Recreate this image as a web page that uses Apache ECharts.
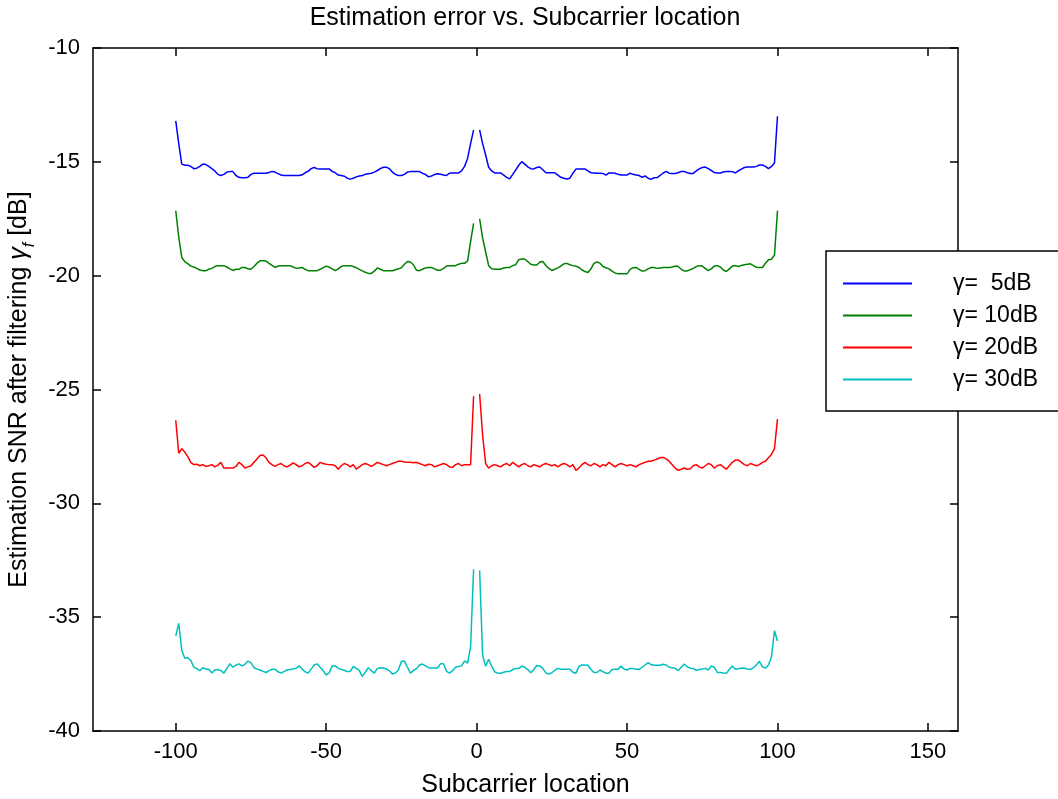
<!DOCTYPE html>
<html>
<head>
<meta charset="utf-8">
<script src="https://cdn.jsdelivr.net/npm/echarts@6/dist/echarts.min.js"></script>
<style>
html,body{margin:0;padding:0;background:#fff;}
#chart{width:1058px;height:799px;}
</style>
</head>
<body>
<div id="chart"></div>
<script>
// Subcarrier indices: -100..-1 and 1..100 (subcarrier 0 is unused)
const subcarriersLeft = [];
const subcarriersRight = [];
for (let k = -100; k <= -1; k++) subcarriersLeft.push(k);
for (let k = 1; k <= 100; k++) subcarriersRight.push(k);

const xTickValues = [-100, -50, 0, 50, 100, 150];
const seriesNames = ['\u03b3=  5dB', '\u03b3= 10dB', '\u03b3= 20dB', '\u03b3= 30dB'];
const seriesColors = ['#0000ff', '#008000', '#ff0000', '#00bfbf'];

// gamma = 5 dB
const snr5Left = [
-13.2,-14.2,-15.1,-15.15,-15.15,-15.2,-15.3,-15.28,-15.2,-15.1,
-15.12,-15.2,-15.3,-15.4,-15.55,-15.6,-15.55,-15.45,-15.43,-15.43,
-15.6,-15.68,-15.7,-15.7,-15.68,-15.55,-15.5,-15.5,-15.5,-15.5,
-15.5,-15.47,-15.42,-15.45,-15.52,-15.58,-15.6,-15.6,-15.6,-15.6,
-15.6,-15.6,-15.57,-15.48,-15.42,-15.3,-15.25,-15.3,-15.31,-15.31,
-15.31,-15.31,-15.42,-15.48,-15.58,-15.6,-15.63,-15.72,-15.76,-15.72,
-15.66,-15.62,-15.6,-15.55,-15.52,-15.5,-15.45,-15.38,-15.3,-15.24,
-15.24,-15.3,-15.45,-15.55,-15.6,-15.6,-15.55,-15.45,-15.43,-15.43,
-15.43,-15.43,-15.5,-15.55,-15.66,-15.62,-15.56,-15.52,-15.55,-15.58,
-15.6,-15.5,-15.49,-15.49,-15.49,-15.4,-15.2,-14.85,-14.2,-13.6
];
const snr5Right = [
-13.6,-14.2,-14.7,-15.24,-15.4,-15.49,-15.49,-15.49,-15.58,-15.68,
-15.75,-15.55,-15.36,-15.15,-14.99,-15.1,-15.22,-15.3,-15.31,-15.25,
-15.23,-15.35,-15.48,-15.48,-15.48,-15.48,-15.58,-15.68,-15.72,-15.75,
-15.72,-15.5,-15.32,-15.31,-15.31,-15.31,-15.4,-15.48,-15.49,-15.5,
-15.5,-15.51,-15.58,-15.49,-15.49,-15.5,-15.55,-15.58,-15.58,-15.58,
-15.5,-15.55,-15.58,-15.6,-15.68,-15.62,-15.72,-15.77,-15.7,-15.69,
-15.6,-15.49,-15.42,-15.5,-15.51,-15.51,-15.48,-15.42,-15.42,-15.48,
-15.51,-15.51,-15.4,-15.31,-15.25,-15.23,-15.3,-15.38,-15.47,-15.49,
-15.49,-15.45,-15.42,-15.42,-15.43,-15.49,-15.4,-15.32,-15.25,-15.23,
-15.23,-15.23,-15.2,-15.14,-15.14,-15.2,-15.3,-15.2,-15.05,-13.0
];

// gamma = 10 dB
const snr10Left = [
-17.15,-18.3,-19.2,-19.38,-19.47,-19.58,-19.62,-19.68,-19.75,-19.78,
-19.78,-19.72,-19.68,-19.6,-19.56,-19.56,-19.56,-19.62,-19.7,-19.77,
-19.72,-19.72,-19.64,-19.64,-19.7,-19.72,-19.6,-19.45,-19.35,-19.35,
-19.36,-19.46,-19.55,-19.64,-19.58,-19.56,-19.56,-19.56,-19.56,-19.62,
-19.67,-19.66,-19.64,-19.72,-19.78,-19.78,-19.78,-19.78,-19.72,-19.65,
-19.58,-19.63,-19.7,-19.78,-19.7,-19.6,-19.56,-19.56,-19.56,-19.6,
-19.65,-19.72,-19.79,-19.85,-19.9,-19.9,-19.8,-19.66,-19.72,-19.78,
-19.78,-19.78,-19.78,-19.74,-19.7,-19.65,-19.5,-19.38,-19.4,-19.52,
-19.76,-19.78,-19.72,-19.66,-19.64,-19.64,-19.7,-19.76,-19.76,-19.68,
-19.58,-19.56,-19.56,-19.56,-19.5,-19.46,-19.46,-19.35,-18.5,-17.7
];
const snr10Right = [
-17.5,-18.35,-18.95,-19.56,-19.7,-19.72,-19.72,-19.72,-19.66,-19.64,
-19.64,-19.56,-19.52,-19.3,-19.27,-19.27,-19.38,-19.5,-19.53,-19.53,
-19.4,-19.38,-19.55,-19.68,-19.77,-19.72,-19.66,-19.58,-19.48,-19.46,
-19.52,-19.56,-19.58,-19.64,-19.74,-19.82,-19.86,-19.7,-19.46,-19.4,
-19.45,-19.6,-19.65,-19.7,-19.8,-19.88,-19.92,-19.92,-19.92,-19.92,
-19.72,-19.65,-19.64,-19.72,-19.8,-19.78,-19.7,-19.64,-19.64,-19.68,
-19.66,-19.64,-19.64,-19.64,-19.62,-19.58,-19.6,-19.72,-19.79,-19.79,
-19.74,-19.68,-19.6,-19.56,-19.58,-19.68,-19.78,-19.7,-19.58,-19.56,
-19.62,-19.75,-19.82,-19.7,-19.58,-19.56,-19.6,-19.55,-19.52,-19.5,
-19.48,-19.56,-19.63,-19.64,-19.64,-19.45,-19.3,-19.28,-19.1,-17.15
];

// gamma = 20 dB
const snr20Left = [
-26.35,-27.8,-27.6,-27.75,-27.95,-28.2,-28.3,-28.28,-28.35,-28.3,
-28.38,-28.35,-28.3,-28.4,-28.32,-28.2,-28.45,-28.45,-28.45,-28.45,
-28.38,-28.2,-28.3,-28.45,-28.4,-28.35,-28.2,-28.05,-27.9,-27.88,
-28.0,-28.2,-28.3,-28.38,-28.3,-28.25,-28.35,-28.4,-28.32,-28.22,
-28.3,-28.4,-28.35,-28.25,-28.2,-28.3,-28.42,-28.35,-28.2,-28.25,
-28.28,-28.3,-28.3,-28.35,-28.5,-28.35,-28.25,-28.3,-28.4,-28.3,
-28.5,-28.4,-28.3,-28.25,-28.3,-28.38,-28.3,-28.2,-28.25,-28.3,
-28.35,-28.3,-28.25,-28.2,-28.15,-28.15,-28.18,-28.2,-28.2,-28.22,
-28.2,-28.25,-28.3,-28.35,-28.28,-28.3,-28.4,-28.35,-28.3,-28.25,
-28.3,-28.4,-28.42,-28.3,-28.25,-28.35,-28.3,-28.3,-28.3,-25.3
];
const snr20Right = [
-25.2,-27.0,-28.25,-28.45,-28.35,-28.3,-28.35,-28.4,-28.3,-28.25,
-28.35,-28.2,-28.3,-28.4,-28.3,-28.25,-28.35,-28.4,-28.3,-28.35,
-28.4,-28.3,-28.25,-28.3,-28.35,-28.3,-28.4,-28.3,-28.25,-28.3,
-28.4,-28.3,-28.55,-28.45,-28.3,-28.2,-28.3,-28.35,-28.25,-28.3,
-28.4,-28.3,-28.35,-28.2,-28.3,-28.4,-28.3,-28.25,-28.3,-28.35,
-28.3,-28.35,-28.4,-28.3,-28.25,-28.2,-28.15,-28.15,-28.1,-28.05,
-28.0,-27.98,-28.05,-28.15,-28.3,-28.45,-28.55,-28.5,-28.45,-28.5,
-28.48,-28.35,-28.3,-28.4,-28.45,-28.35,-28.25,-28.3,-28.45,-28.35,
-28.3,-28.4,-28.5,-28.35,-28.2,-28.1,-28.1,-28.2,-28.3,-28.35,
-28.25,-28.3,-28.35,-28.3,-28.2,-28.15,-28.0,-27.85,-27.6,-26.3
];

// gamma = 30 dB
const snr30Left = [
-35.82,-35.27,-36.45,-36.8,-36.77,-36.9,-37.2,-37.26,-37.35,-37.22,
-37.28,-37.29,-37.45,-37.32,-37.3,-37.35,-37.46,-37.25,-37.05,-37.2,
-37.11,-37.05,-37.14,-37.07,-36.93,-37.0,-37.22,-37.28,-37.32,-37.38,
-37.43,-37.35,-37.29,-37.29,-37.4,-37.46,-37.38,-37.32,-37.3,-37.28,
-37.25,-37.14,-37.28,-37.4,-37.46,-37.28,-37.1,-37.05,-37.2,-37.35,
-37.54,-37.45,-37.14,-37.14,-37.25,-37.3,-37.33,-37.39,-37.39,-37.16,
-37.25,-37.35,-37.6,-37.42,-37.22,-37.35,-37.46,-37.25,-37.22,-37.23,
-37.28,-37.35,-37.5,-37.45,-37.32,-36.95,-36.92,-37.2,-37.46,-37.35,
-37.26,-37.1,-37.06,-37.14,-37.22,-37.23,-37.23,-37.23,-37.05,-37.05,
-37.38,-37.46,-37.35,-37.2,-37.17,-37.14,-36.92,-37.02,-36.3,-32.9
];
const snr30Right = [
-32.95,-36.67,-37.15,-36.85,-37.15,-37.4,-37.46,-37.46,-37.42,-37.39,
-37.39,-37.3,-37.25,-37.26,-37.15,-37.2,-37.3,-37.44,-37.3,-37.12,
-37.14,-37.25,-37.45,-37.5,-37.44,-37.33,-37.25,-37.29,-37.29,-37.29,
-37.29,-37.42,-37.46,-37.17,-37.1,-37.1,-37.11,-37.3,-37.43,-37.43,
-37.32,-37.4,-37.46,-37.46,-37.3,-37.29,-37.29,-37.15,-37.28,-37.32,
-37.25,-37.26,-37.29,-37.29,-37.2,-37.1,-37.0,-37.08,-37.11,-37.11,
-37.11,-37.07,-37.1,-37.2,-37.22,-37.25,-37.35,-37.2,-37.06,-37.18,
-37.24,-37.25,-37.34,-37.3,-37.28,-37.25,-37.32,-37.14,-37.2,-37.43,
-37.43,-37.45,-37.46,-37.3,-37.15,-37.29,-37.27,-37.23,-37.24,-37.28,
-37.3,-37.22,-37.1,-36.94,-37.18,-37.24,-37.1,-36.75,-35.6,-36.05
];

const seriesLeft = [snr5Left, snr10Left, snr20Left, snr30Left];
const seriesRight = [snr5Right, snr10Right, snr20Right, snr30Right];

function buildData(left, right) {
  const d = [];
  subcarriersLeft.forEach((x, i) => d.push([x, left[i]]));
  d.push([0, null]);
  subcarriersRight.forEach((x, i) => d.push([x, right[i]]));
  return d;
}

const FONT = 'Liberation Sans';
const axisLineStyle = { color: '#000', width: 1.5 };

const chart = echarts.init(document.getElementById('chart'), null, { renderer: 'canvas' });
chart.setOption({
  animation: false,
  backgroundColor: '#fff',
  textStyle: { fontFamily: FONT },
  title: {
    text: 'Estimation error vs. Subcarrier location',
    left: 525, textAlign: 'center',
    top: 6, padding: 0,
    textStyle: { fontFamily: FONT, fontSize: 25, fontWeight: 'normal', color: '#000' }
  },
  grid: { left: 93, right: 100, top: 48, bottom: 68, containLabel: false, outerBoundsMode: 'none' },
  xAxis: [{
    type: 'value', position: 'bottom', min: -127.5, max: 160,
    name: 'Subcarrier location', nameLocation: 'middle', nameGap: 42,
    nameTextStyle: { fontFamily: FONT, fontSize: 25, color: '#000' },
    axisLine: { show: true, onZero: false, lineStyle: axisLineStyle },
    axisTick: { show: true, inside: true, length: 8, customValues: xTickValues, lineStyle: axisLineStyle },
    axisLabel: { show: true, customValues: xTickValues, margin: 10, fontSize: 22, color: '#000', fontFamily: FONT },
    splitLine: { show: false }
  }, {
    type: 'value', position: 'top', min: -127.5, max: 160,
    axisLine: { show: true, onZero: false, lineStyle: axisLineStyle },
    axisTick: { show: true, inside: true, length: 8, customValues: xTickValues, lineStyle: axisLineStyle },
    axisLabel: { show: false },
    splitLine: { show: false }
  }],
  yAxis: [{
    type: 'value', position: 'left', min: -40, max: -10, interval: 5,
    name: 'Estimation SNR after filtering {g|\u03b3}{sub|f} [dB]',
    nameLocation: 'middle', nameGap: 48,
    nameTextStyle: {
      fontFamily: FONT, fontSize: 25, color: '#000',
      rich: {
        g: { fontFamily: FONT, fontSize: 25, fontStyle: 'italic', color: '#000' },
        sub: { fontFamily: FONT, fontSize: 16, fontStyle: 'italic', color: '#000', verticalAlign: 'bottom', lineHeight: 36 }
      }
    },
    axisLine: { show: true, onZero: false, lineStyle: axisLineStyle },
    axisTick: { show: true, inside: true, length: 8, lineStyle: axisLineStyle },
    axisLabel: { show: true, margin: 13, fontSize: 22, color: '#000', fontFamily: FONT },
    splitLine: { show: false }
  }, {
    type: 'value', position: 'right', min: -40, max: -10, interval: 5,
    axisLine: { show: true, onZero: false, lineStyle: axisLineStyle },
    axisTick: { show: true, inside: true, length: 8, lineStyle: axisLineStyle },
    axisLabel: { show: false },
    splitLine: { show: false }
  }],
  legend: {
    orient: 'vertical',
    left: 826, top: 251,
    padding: [21, 150, 20, 17],
    itemGap: 9,
    itemWidth: 69, itemHeight: 2,
    icon: 'rect',
    backgroundColor: '#fff',
    borderColor: '#000', borderWidth: 1.5,
    textStyle: { fontFamily: FONT, fontSize: 23, color: '#000', padding: [0, 0, 0, 36] },
    data: seriesNames,
    z: 10
  },
  series: seriesNames.map((name, i) => ({
    name: name,
    type: 'line',
    xAxisIndex: 0, yAxisIndex: 0,
    data: buildData(seriesLeft[i], seriesRight[i]),
    showSymbol: false, symbol: 'none',
    connectNulls: false,
    lineStyle: { color: seriesColors[i], width: 1.5 },
    itemStyle: { color: seriesColors[i] },
    clip: true
  }))
});
</script>
</body>
</html>
